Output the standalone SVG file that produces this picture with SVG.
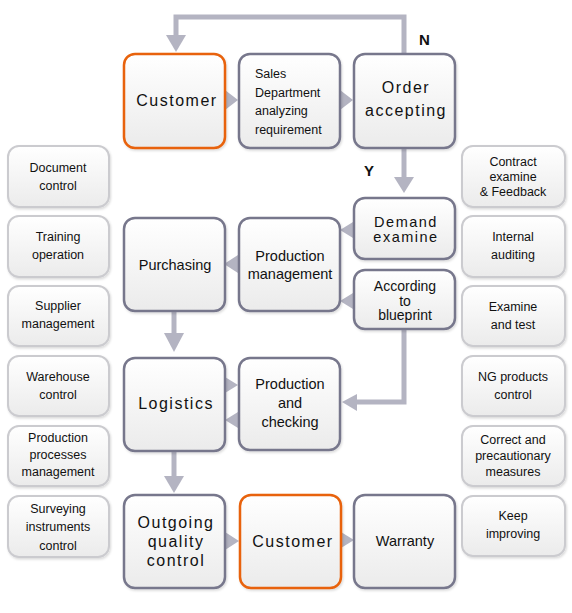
<svg xmlns="http://www.w3.org/2000/svg" width="572" height="613" viewBox="0 0 572 613">
<defs>
<linearGradient id="g" x1="0" y1="0" x2="0" y2="1">
<stop offset="0" stop-color="#ffffff"/>
<stop offset="1" stop-color="#ebebeb"/>
</linearGradient>
<filter id="sh" x="-10%" y="-10%" width="130%" height="130%">
<feDropShadow dx="1" dy="1.5" stdDeviation="1.2" flood-color="#000" flood-opacity="0.15"/>
</filter>
</defs>
<style>
.m{fill:url(#g);stroke:#77778c;stroke-width:2.5;filter:url(#sh)}
.o{fill:url(#g);stroke:#e8620a;stroke-width:2.5;filter:url(#sh)}
.s{fill:url(#g);stroke:#cbcbcf;stroke-width:2;filter:url(#sh)}
.t{font-family:"Liberation Sans",Arial,sans-serif;fill:#111;text-anchor:middle}
.big{font-size:16px;letter-spacing:1.5px}
.mid{font-size:14.5px}
.sm{font-size:12.5px}
.side{font-size:12.5px}
.ln{fill:none;stroke:#b4b4c2;stroke-width:5}
.ah{fill:#b4b4c2}
.lbl{font-family:"Liberation Sans",Arial,sans-serif;font-weight:bold;font-size:15px;fill:#111}
</style>
<rect width="572" height="613" fill="#fff"/>

<g id="connectors">
<polyline class="ln" points="404,54 404,17 176,17 176,36"/>
<polygon class="ah" points="166,35 186,35 176,52"/>
<polygon class="ah" points="225,90 238,100 225,110"/>
<polygon class="ah" points="340,90 353,100 340,110"/>
<line class="ln" x1="404" y1="148" x2="404" y2="178"/>
<polygon class="ah" points="394,177 414,177 404,193"/>
<polygon class="ah" points="353,222 353,238 340,230"/>
<polygon class="ah" points="353,293 353,309 340,301"/>
<polygon class="ah" points="238,255 238,273 224,264"/>
<line class="ln" x1="174" y1="312" x2="174" y2="334"/>
<polygon class="ah" points="164,333 184,333 174,352"/>
<polyline class="ln" points="404,330 404,402 356,402"/>
<polygon class="ah" points="357,394 357,411 342,402"/>
<polygon class="ah" points="225,377 238,385 225,393"/>
<polygon class="ah" points="238,412 238,428 225,420"/>
<line class="ln" x1="174" y1="452" x2="174" y2="477"/>
<polygon class="ah" points="164,476 184,476 174,493"/>
<polygon class="ah" points="225,532 239,541 225,550"/>
<polygon class="ah" points="341,532 354,540 341,548"/>
</g>
<text class="lbl" x="419" y="45">N</text>
<text class="lbl" x="364" y="176">Y</text>

<g id="customer1"><rect class="o" x="124" y="54" width="101" height="94" rx="11"/><text class="t big" x="177" y="106">Customer</text></g>
<g id="sales"><rect class="m" x="239" y="54" width="101" height="94" rx="11"/>
<text class="t sm" style="text-anchor:start" x="255" y="78">Sales</text>
<text class="t sm" style="text-anchor:start" x="255" y="97">Department</text>
<text class="t sm" style="text-anchor:start" x="255" y="115">analyzing</text>
<text class="t sm" style="text-anchor:start" x="255" y="134">requirement</text></g>
<g id="order"><rect class="m" x="354" y="54" width="101" height="94" rx="11"/>
<text class="t big" x="406" y="93">Order</text><text class="t big" x="406" y="116">accepting</text></g>

<g id="demand"><rect class="m" x="354" y="198" width="101" height="61" rx="11"/>
<text class="t big" style="font-size:14.5px" x="406" y="227">Demand</text><text class="t big" style="font-size:14.5px" x="406" y="242">examine</text></g>
<g id="blueprint"><rect class="m" x="354" y="270" width="101" height="59" rx="11"/>
<text class="t" style="font-size:14px" x="405" y="291">According</text><text class="t" style="font-size:14px" x="405" y="305.5">to</text><text class="t" style="font-size:14px" x="405" y="320">blueprint</text></g>
<g id="purchasing"><rect class="m" x="124" y="218" width="101" height="93" rx="11"/>
<text class="t mid" x="175" y="270">Purchasing</text></g>
<g id="prodmgmt"><rect class="m" x="239" y="218" width="101" height="93" rx="11"/>
<text class="t mid" x="290" y="261">Production</text><text class="t mid" x="290" y="279">management</text></g>

<g id="logistics"><rect class="m" x="124" y="358" width="101" height="93" rx="11"/>
<text class="t big" x="176" y="409">Logistics</text></g>
<g id="prodcheck"><rect class="m" x="239" y="358" width="101" height="92" rx="11"/>
<text class="t mid" x="290" y="389">Production</text><text class="t mid" x="290" y="408">and</text><text class="t mid" x="290" y="427">checking</text></g>

<g id="outgoing"><rect class="m" x="124" y="495" width="101" height="93" rx="11"/>
<text class="t big" x="176" y="528">Outgoing</text><text class="t big" x="176" y="547">quality</text><text class="t big" x="176" y="566">control</text></g>
<g id="customer2"><rect class="o" x="240" y="495" width="101" height="93" rx="11"/>
<text class="t big" x="293" y="547">Customer</text></g>
<g id="warranty"><rect class="m" x="354" y="495" width="101" height="93" rx="11"/>
<text class="t mid" x="405" y="546">Warranty</text></g>

<g id="doc"><rect class="s" x="8" y="146" width="101" height="61" rx="11"/><text class="t side" x="58" y="172">Document</text><text class="t side" x="58" y="190">control</text></g>
<g id="training"><rect class="s" x="8" y="216" width="101" height="61" rx="11"/><text class="t side" x="58" y="241">Training</text><text class="t side" x="58" y="259">operation</text></g>
<g id="supplier"><rect class="s" x="8" y="286" width="101" height="60" rx="11"/><text class="t side" x="58" y="310">Supplier</text><text class="t side" x="58" y="328">management</text></g>
<g id="warehouse"><rect class="s" x="8" y="356" width="101" height="60" rx="11"/><text class="t side" x="58" y="381">Warehouse</text><text class="t side" x="58" y="399">control</text></g>
<g id="processes"><rect class="s" x="8" y="426" width="101" height="60" rx="11"/><text class="t side" x="58" y="442">Production</text><text class="t side" x="58" y="459">processes</text><text class="t side" x="58" y="476">management</text></g>
<g id="surveying"><rect class="s" x="8" y="496" width="101" height="61" rx="11"/><text class="t side" x="58" y="513">Surveying</text><text class="t side" x="58" y="531">instruments</text><text class="t side" x="58" y="550">control</text></g>

<g id="contract"><rect class="s" x="462" y="146" width="103" height="61" rx="11"/><text class="t side" x="513" y="166">Contract</text><text class="t side" x="513" y="181">examine</text><text class="t side" x="513" y="196">&amp; Feedback</text></g>
<g id="internal"><rect class="s" x="462" y="216" width="103" height="61" rx="11"/><text class="t side" x="513" y="241">Internal</text><text class="t side" x="513" y="259">auditing</text></g>
<g id="examine"><rect class="s" x="462" y="286" width="103" height="60" rx="11"/><text class="t side" x="513" y="311">Examine</text><text class="t side" x="513" y="329">and test</text></g>
<g id="ng"><rect class="s" x="462" y="356" width="103" height="60" rx="11"/><text class="t side" x="513" y="381">NG products</text><text class="t side" x="513" y="399">control</text></g>
<g id="correct"><rect class="s" x="462" y="426" width="103" height="60" rx="11"/><text class="t side" x="513" y="444">Correct and</text><text class="t side" x="513" y="460">precautionary</text><text class="t side" x="513" y="476">measures</text></g>
<g id="keep"><rect class="s" x="462" y="496" width="103" height="60" rx="11"/><text class="t side" x="513" y="520">Keep</text><text class="t side" x="513" y="538">improving</text></g>
</svg>
